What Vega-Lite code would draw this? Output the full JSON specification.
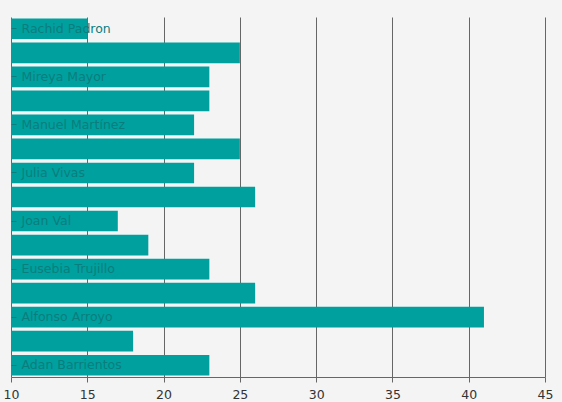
{
  "$schema": "https://vega.github.io/schema/vega-lite/v6.json",
  "width": 534,
  "height": 360,
  "autosize": "none",
  "padding": {"left": 11, "top": 17, "right": 17, "bottom": 25},
  "background": "#f4f4f4",
  "config": {"view": {"stroke": null}, "font": "DejaVu Sans"},
  "data": {
    "values": [
      {"name": "Rachid Padron", "value": 15},
      {"name": "Pablo Ruiz", "value": 25},
      {"name": "Mireya Mayor", "value": 23},
      {"name": "María López", "value": 23},
      {"name": "Manuel Martínez", "value": 22},
      {"name": "Laura Gil", "value": 25},
      {"name": "Julia Vivas", "value": 22},
      {"name": "Jorge Medina", "value": 26},
      {"name": "Joan Val", "value": 17},
      {"name": "Inés Romero", "value": 19},
      {"name": "Eusebia Trujillo", "value": 23},
      {"name": "Carmen Soto", "value": 26},
      {"name": "Alfonso Arroyo", "value": 41},
      {"name": "Agustín Herrera", "value": 18},
      {"name": "Adan Barrientos", "value": 23}
    ]
  },
  "mark": {"type": "bar", "color": "#00a09f", "clip": true},
  "encoding": {
    "y": {
      "field": "name",
      "type": "nominal",
      "sort": "descending",
      "scale": {"paddingInner": 0.14, "paddingOuter": 0.06},
      "axis": {
        "title": null,
        "zindex": 1,
        "domain": false,
        "grid": false,
        "values": ["Rachid Padron", "Mireya Mayor", "Manuel Martínez", "Julia Vivas", "Joan Val", "Eusebia Trujillo", "Alfonso Arroyo", "Adan Barrientos"],
        "tickSize": -5,
        "tickColor": "#0e7f7f",
        "labelAlign": "left",
        "labelPadding": -5,
        "labelColor": "#0b7d7c",
        "labelFontSize": 12.5,
        "labelFont": "DejaVu Sans"
      }
    },
    "x": {
      "field": "value",
      "type": "quantitative",
      "scale": {"domain": [10, 45], "zero": false, "nice": false},
      "axis": {
        "title": null,
        "values": [10, 15, 20, 25, 30, 35, 40, 45],
        "grid": true,
        "gridColor": "#666666",
        "gridOpacity": 1,
        "domainColor": "#666666",
        "tickColor": "#666666",
        "tickSize": 5,
        "labelFlush": false,
        "labelColor": "#333333",
        "labelFontSize": 12.5,
        "labelPadding": 6
      }
    }
  }
}
